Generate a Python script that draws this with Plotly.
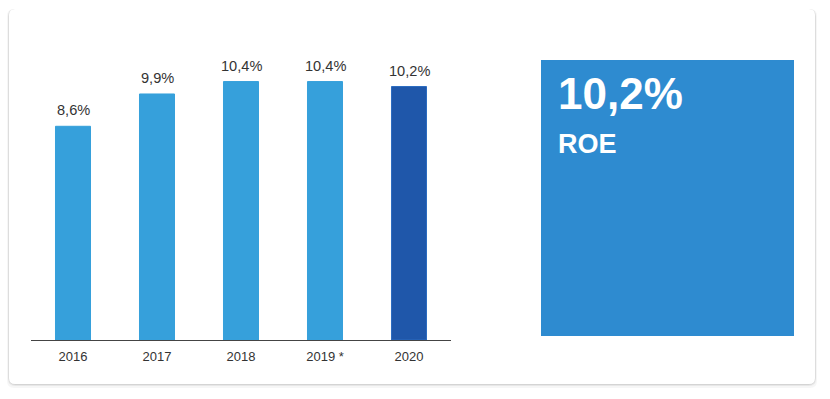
import plotly.graph_objects as go

# ---- data ----
years = ["2016", "2017", "2018", "2019 *", "2020"]
roe_values = [8.6, 9.9, 10.4, 10.4, 10.2]
value_labels = ["8,6%", "9,9%", "10,4%", "10,4%", "10,2%"]
bar_colors = ["#36a0db", "#36a0db", "#36a0db", "#36a0db", "#1f57aa"]
bar_line_colors = ["#36a0db", "#36a0db", "#36a0db", "#36a0db", "#2c6cc0"]
highlight_value = "10,2%"
highlight_label = "ROE"

# ---- geometry (pixels) ----
W, H = 830, 399
L, R, T, B = 31, 451, 40, 340  # plot area in pixels
FONT = "Liberation Sans, Arial, Helvetica, sans-serif"


def px(x):
    return (x - L) / (R - L)


def py(y):
    return (B - y) / (B - T)


def rounded_rect(x0, y0, x1, y1, r):
    pts = [
        f"M {px(x0 + r)},{py(y0)}",
        f"L {px(x1 - r)},{py(y0)}",
        f"Q {px(x1)},{py(y0)} {px(x1)},{py(y0 + r)}",
        f"L {px(x1)},{py(y1 - r)}",
        f"Q {px(x1)},{py(y1)} {px(x1 - r)},{py(y1)}",
        f"L {px(x0 + r)},{py(y1)}",
        f"Q {px(x0)},{py(y1)} {px(x0)},{py(y1 - r)}",
        f"L {px(x0)},{py(y0 + r)}",
        f"Q {px(x0)},{py(y0)} {px(x0 + r)},{py(y0)}",
        "Z",
    ]
    return " ".join(pts)


fig = go.Figure()
fig.add_trace(
    go.Bar(
        x=years,
        y=roe_values,
        marker=dict(color=bar_colors, line=dict(color=bar_line_colors, width=1)),
        hoverinfo="skip",
    )
)

shapes = []
# card shadow
for off, grow, op in [(2, 2, 0.035), (1, 1, 0.06), (0.5, 0.5, 0.08)]:
    shapes.append(
        dict(
            type="path",
            xref="paper",
            yref="paper",
            path=rounded_rect(9 - grow, 9 - grow + off, 815 + grow, 384 + grow + off, 7),
            fillcolor=f"rgba(0,0,0,{op})",
            line=dict(width=0),
            layer="below",
        )
    )
# card
shapes.append(
    dict(
        type="path",
        xref="paper",
        yref="paper",
        path=rounded_rect(9, 9, 815, 384, 6),
        fillcolor="#ffffff",
        line=dict(width=0),
        layer="below",
    )
)
# blue KPI box
shapes.append(
    dict(
        type="rect",
        xref="paper",
        yref="paper",
        x0=px(541),
        x1=px(794),
        y0=py(336),
        y1=py(60),
        fillcolor="#2e8bd0",
        line=dict(width=0),
        layer="above",
    )
)

annotations = []
for i, (v, lab) in enumerate(zip(roe_values, value_labels)):
    annotations.append(
        dict(
            x=i,  # category index on the category axis
            y=v,
            xref="x",
            yref="y",
            text=lab,
            showarrow=False,
            yanchor="bottom",
            yshift=6,
            font=dict(family=FONT, size=14.6, color="#333333"),
        )
    )
annotations.append(
    dict(
        x=px(556),
        y=py(93),
        xref="paper",
        yref="paper",
        text=f"<b>{highlight_value}</b>",
        showarrow=False,
        xanchor="left",
        yanchor="middle",
        font=dict(family=FONT, size=44, color="#ffffff"),
    )
)
annotations.append(
    dict(
        x=px(556),
        y=py(144),
        xref="paper",
        yref="paper",
        text=f"<b>{highlight_label}</b>",
        showarrow=False,
        xanchor="left",
        yanchor="middle",
        font=dict(family=FONT, size=27, color="#ffffff"),
    )
)

fig.update_layout(
    width=W,
    height=H,
    margin=dict(l=L, r=W - R, t=T, b=H - B, pad=0),
    paper_bgcolor="#ffffff",
    plot_bgcolor="rgba(0,0,0,0)",
    bargap=0.583,
    showlegend=False,
    shapes=shapes,
    annotations=annotations,
    font=dict(family=FONT, color="#333333"),
    xaxis=dict(
        type="category",
        categoryorder="array",
        categoryarray=years,
        range=[-0.5, len(years) - 0.5],
        showline=True,
        linecolor="#444444",
        linewidth=1,
        ticks="",
        ticklabelstandoff=4,
        showgrid=False,
        zeroline=False,
        tickfont=dict(family=FONT, size=13, color="#333333"),
        fixedrange=True,
    ),
    yaxis=dict(
        range=[0, (B - T) / 24.85],
        visible=False,
        showgrid=False,
        zeroline=False,
        fixedrange=True,
    ),
)

fig.write_html(
    "out.html",
    config={"displayModeBar": False},
    post_script="document.body.style.margin='0';document.body.style.overflow='hidden';",
)
